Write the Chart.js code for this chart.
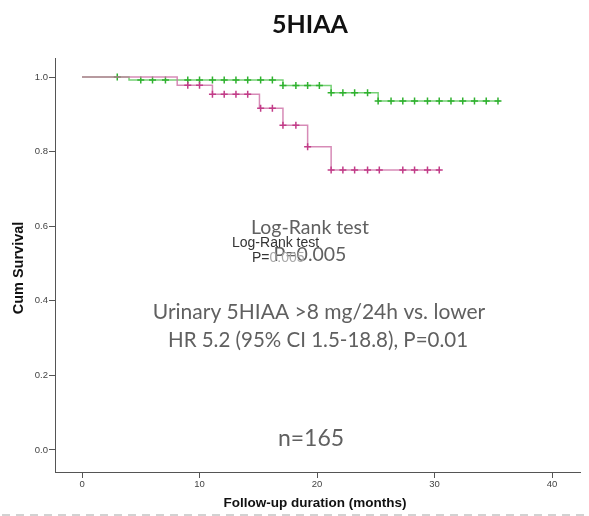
<!DOCTYPE html>
<html>
<head>
<meta charset="utf-8">
<title>5HIAA</title>
<script src="https://cdn.jsdelivr.net/npm/chart.js@4.4.0/dist/chart.umd.min.js"></script>
<style>
    html, body { margin: 0; padding: 0; background: #fff; }
    #wrap { width: 589px; height: 516px; position: relative; }
</style>
</head>
<body>
<div id="wrap"><canvas id="kmChart" width="589" height="516"></canvas></div>
<script>
// Kaplan-Meier steps: time (months) and survival after each drop
var lowTimes = [0, 4.0, 17.1, 21.2, 25.2, 35.6];
var lowSurv = [1.0, 0.992, 0.977, 0.958, 0.936, 0.936];
var highTimes = [0, 8.1, 11.1, 15.1, 17.1, 19.2, 21.2, 30.5];
var highSurv = [1.0, 0.978, 0.954, 0.916, 0.871, 0.813, 0.751, 0.751];

// censored cases (months)
var lowCensored = [3.0, 5.0, 6.0, 7.1, 9.0, 10.0, 11.1, 12.1, 13.1, 14.1, 15.2, 16.2, 17.1, 18.2, 19.2, 20.2,
    21.2, 22.2, 23.2, 24.3, 25.2, 26.3, 27.3, 28.3, 29.4, 30.4, 31.4, 32.4, 33.4, 34.4, 35.4];
var highCensored = [9.0, 10.0, 11.1, 12.1, 13.1, 14.1, 15.2, 16.2, 17.1, 18.2, 19.2, 21.2, 22.2, 23.2, 24.3,
    25.3, 27.3, 28.3, 29.4, 30.4];

var xTicks = [0, 10, 20, 30, 40];
var yTicks = [0.0, 0.2, 0.4, 0.6, 0.8, 1.0];

// survival value of a step curve at time t
function survAt(times, surv, t) {
    var s = surv[0];
    for (var i = 0; i < times.length; i++) {
        if (times[i] <= t) s = surv[i];
    }
    return s;
}

function stepPoints(times, surv) {
    return times.map(function (t, i) { return { x: t, y: surv[i] }; });
}

function censorPoints(list, times, surv) {
    return list.map(function (t) { return { x: t, y: survAt(times, surv, t) }; });
}

var lineGreen = '#76d176';
var crossGreen = '#2fb12f';
var linePink = 'rgba(205, 110, 165, 0.8)';
var crossPink = '#c23c88';

// texts and the dashed rule drawn straight on the canvas
var overlayText = {
    id: 'overlayText',
    afterDraw: function (chart) {
        var ctx = chart.ctx;
        ctx.save();
        ctx.textBaseline = 'middle';

        ctx.fillStyle = '#111';
        ctx.textAlign = 'center';
        ctx.font = 'bold 25px Lato';
        ctx.fillText('5HIAA', 310, 25);

        ctx.fillStyle = '#606060';
        ctx.font = '19.5px Lato';
        ctx.fillText('Log-Rank test', 310, 228);
        ctx.fillText('P=0.005', 310, 255);

        ctx.textAlign = 'left';
        ctx.font = '14px "Liberation Sans"';
        ctx.fillStyle = '#333';
        ctx.fillText('Log-Rank test', 232, 243);
        ctx.fillText('P=', 252, 258);
        var pw = ctx.measureText('P=').width;
        ctx.fillStyle = '#a8a8a8';
        ctx.fillText('0.005', 252 + pw, 258);

        ctx.textAlign = 'center';
        ctx.fillStyle = '#606060';
        ctx.font = '21px Lato';
        ctx.fillText('Urinary 5HIAA >8 mg/24h vs. lower', 319, 312);
        ctx.font = '20.5px Lato';
        ctx.fillText('HR 5.2 (95% CI 1.5-18.8), P=0.01', 318, 340);
        ctx.font = '23px Lato';
        ctx.fillText('n=165', 311, 439);

        ctx.fillStyle = '#111';
        ctx.font = 'bold 13.5px "Liberation Sans"';
        ctx.fillText('Follow-up duration (months)', 315, 503);

        ctx.save();
        ctx.translate(19, 268);
        ctx.rotate(-Math.PI / 2);
        ctx.font = 'bold 14.5px "Liberation Sans"';
        ctx.fillText('Cum Survival', 0, 0);
        ctx.restore();

        ctx.strokeStyle = '#c4c4c4';
        ctx.lineWidth = 1.5;
        ctx.setLineDash([8, 6]);
        ctx.beginPath();
        ctx.moveTo(2, 515);
        ctx.lineTo(589, 515);
        ctx.stroke();
        ctx.restore();
    }
};

var ctx = document.getElementById('kmChart').getContext('2d');
var kmChart = new Chart(ctx, {
    type: 'scatter',
    data: {
        datasets: [{
            label: 'lower',
            data: stepPoints(lowTimes, lowSurv),
            showLine: true,
            stepped: 'before',
            borderColor: lineGreen,
            borderWidth: 1.5,
            pointRadius: 0,
            order: 4
        }, {
            label: 'lower censored',
            data: censorPoints(lowCensored, lowTimes, lowSurv),
            showLine: false,
            pointStyle: 'cross',
            pointRadius: 3.5,
            borderColor: crossGreen,
            borderWidth: 1.5,
            order: 3
        }, {
            label: '>8 mg/24h',
            data: stepPoints(highTimes, highSurv),
            showLine: true,
            stepped: 'before',
            borderColor: linePink,
            borderWidth: 1.5,
            pointRadius: 0,
            order: 2
        }, {
            label: '>8 mg/24h censored',
            data: censorPoints(highCensored, highTimes, highSurv),
            showLine: false,
            pointStyle: 'cross',
            pointRadius: 3.5,
            borderColor: crossPink,
            borderWidth: 1.5,
            order: 1
        }]
    },
    options: {
        responsive: false,
        animation: false,
        layout: {
            padding: { top: 58, right: 9, left: 0, bottom: 0 }
        },
        scales: {
            x: {
                type: 'linear',
                min: -2.3,
                max: 42.38,
                afterFit: function (scale) { scale.height = 44; },
                afterBuildTicks: function (scale) {
                    scale.ticks = xTicks.map(function (v) { return { value: v }; });
                },
                ticks: {
                    padding: 1,
                    color: '#444',
                    font: { family: 'Liberation Sans', size: 9.5 },
                    callback: function (v) { return v; }
                },
                grid: { drawOnChartArea: false, drawTicks: true, tickLength: 6, color: '#555' },
                border: { display: true, color: '#555', width: 1 }
            },
            y: {
                min: -0.059,
                max: 1.051,
                afterFit: function (scale) { scale.width = 55; },
                afterBuildTicks: function (scale) {
                    scale.ticks = yTicks.map(function (v) { return { value: v }; });
                },
                ticks: {
                    padding: 1,
                    color: '#444',
                    font: { family: 'Liberation Sans', size: 9.5 },
                    callback: function (v) { return Number(v).toFixed(1); }
                },
                grid: { drawOnChartArea: false, drawTicks: true, tickLength: 6, color: '#555' },
                border: { display: true, color: '#555', width: 1 }
            }
        },
        plugins: {
            legend: { display: false },
            tooltip: { enabled: false }
        }
    },
    plugins: [overlayText]
});
</script>
</body>
</html>
